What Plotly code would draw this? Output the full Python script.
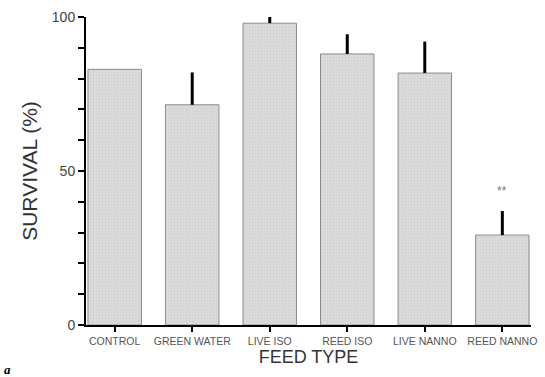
import plotly.graph_objects as go

categories = ["CONTROL", "GREEN WATER", "LIVE ISO", "REED ISO", "LIVE NANNO", "REED NANNO"]
survival = [83, 71.5, 98, 88, 81.8, 29.2]
error_up = [0, 10.5, 2, 6.4, 10.2, 7.8]
y_ticks = [0, 50, 100]

fig = go.Figure()
fig.add_trace(go.Bar(
    x=list(range(len(categories))),
    y=survival,
    width=0.69,
    marker=dict(color="#d6d6d6", line=dict(color="#8c8c8c", width=1),
                pattern=dict(shape=".", fgcolor="#c4c4c4", bgcolor="#dcdcdc", size=3, solidity=0.3)),
    error_y=dict(type="data", symmetric=False, array=error_up,
                 arrayminus=[0] * len(categories), color="black", thickness=3, width=0),
    showlegend=False,
))

fig.add_annotation(x=5, y=43.5, text="**", showarrow=False,
                   font=dict(size=12, color="#777777", family="Liberation Sans"))
fig.add_annotation(x=0.0, y=0.0, xref="paper", yref="paper", xanchor="left", yanchor="top",
                   text="<b><i>a</i></b>", showarrow=False, xshift=-84, yshift=-35,
                   font=dict(size=13, color="black", family="Liberation Serif"))

fig.update_layout(
    width=545, height=377,
    margin=dict(l=86, r=8, t=17, b=52),
    paper_bgcolor="white", plot_bgcolor="white",
    font=dict(family="Liberation Sans", color="#444444"),
    bargap=0.31,
)
fig.update_xaxes(
    range=[-0.37, 5.37],
    tickmode="array", tickvals=list(range(len(categories))), ticktext=categories,
    tickfont=dict(size=10.5, color="#555555"),
    ticklabeloverflow="allow",
    showline=True, linecolor="black", linewidth=2,
    ticks="outside", ticklen=5, tickwidth=2, tickcolor="black",
    showgrid=False, zeroline=False,
    title=dict(text="FEED TYPE", font=dict(size=18, color="#333333"), standoff=4),
)
fig.update_yaxes(
    range=[0, 100],
    tickmode="array", tickvals=y_ticks,
    tickfont=dict(size=14, color="#444444"),
    showline=True, linecolor="black", linewidth=2,
    ticks="outside", ticklen=6, tickwidth=2, tickcolor="black",
    minor=dict(dtick=10, ticks="outside", ticklen=6, tickwidth=2, tickcolor="black"),
    showgrid=False, zeroline=False,
    title=dict(text="SURVIVAL (%)", font=dict(size=21, color="#333333"), standoff=8),
)

fig.write_html("out.html")
